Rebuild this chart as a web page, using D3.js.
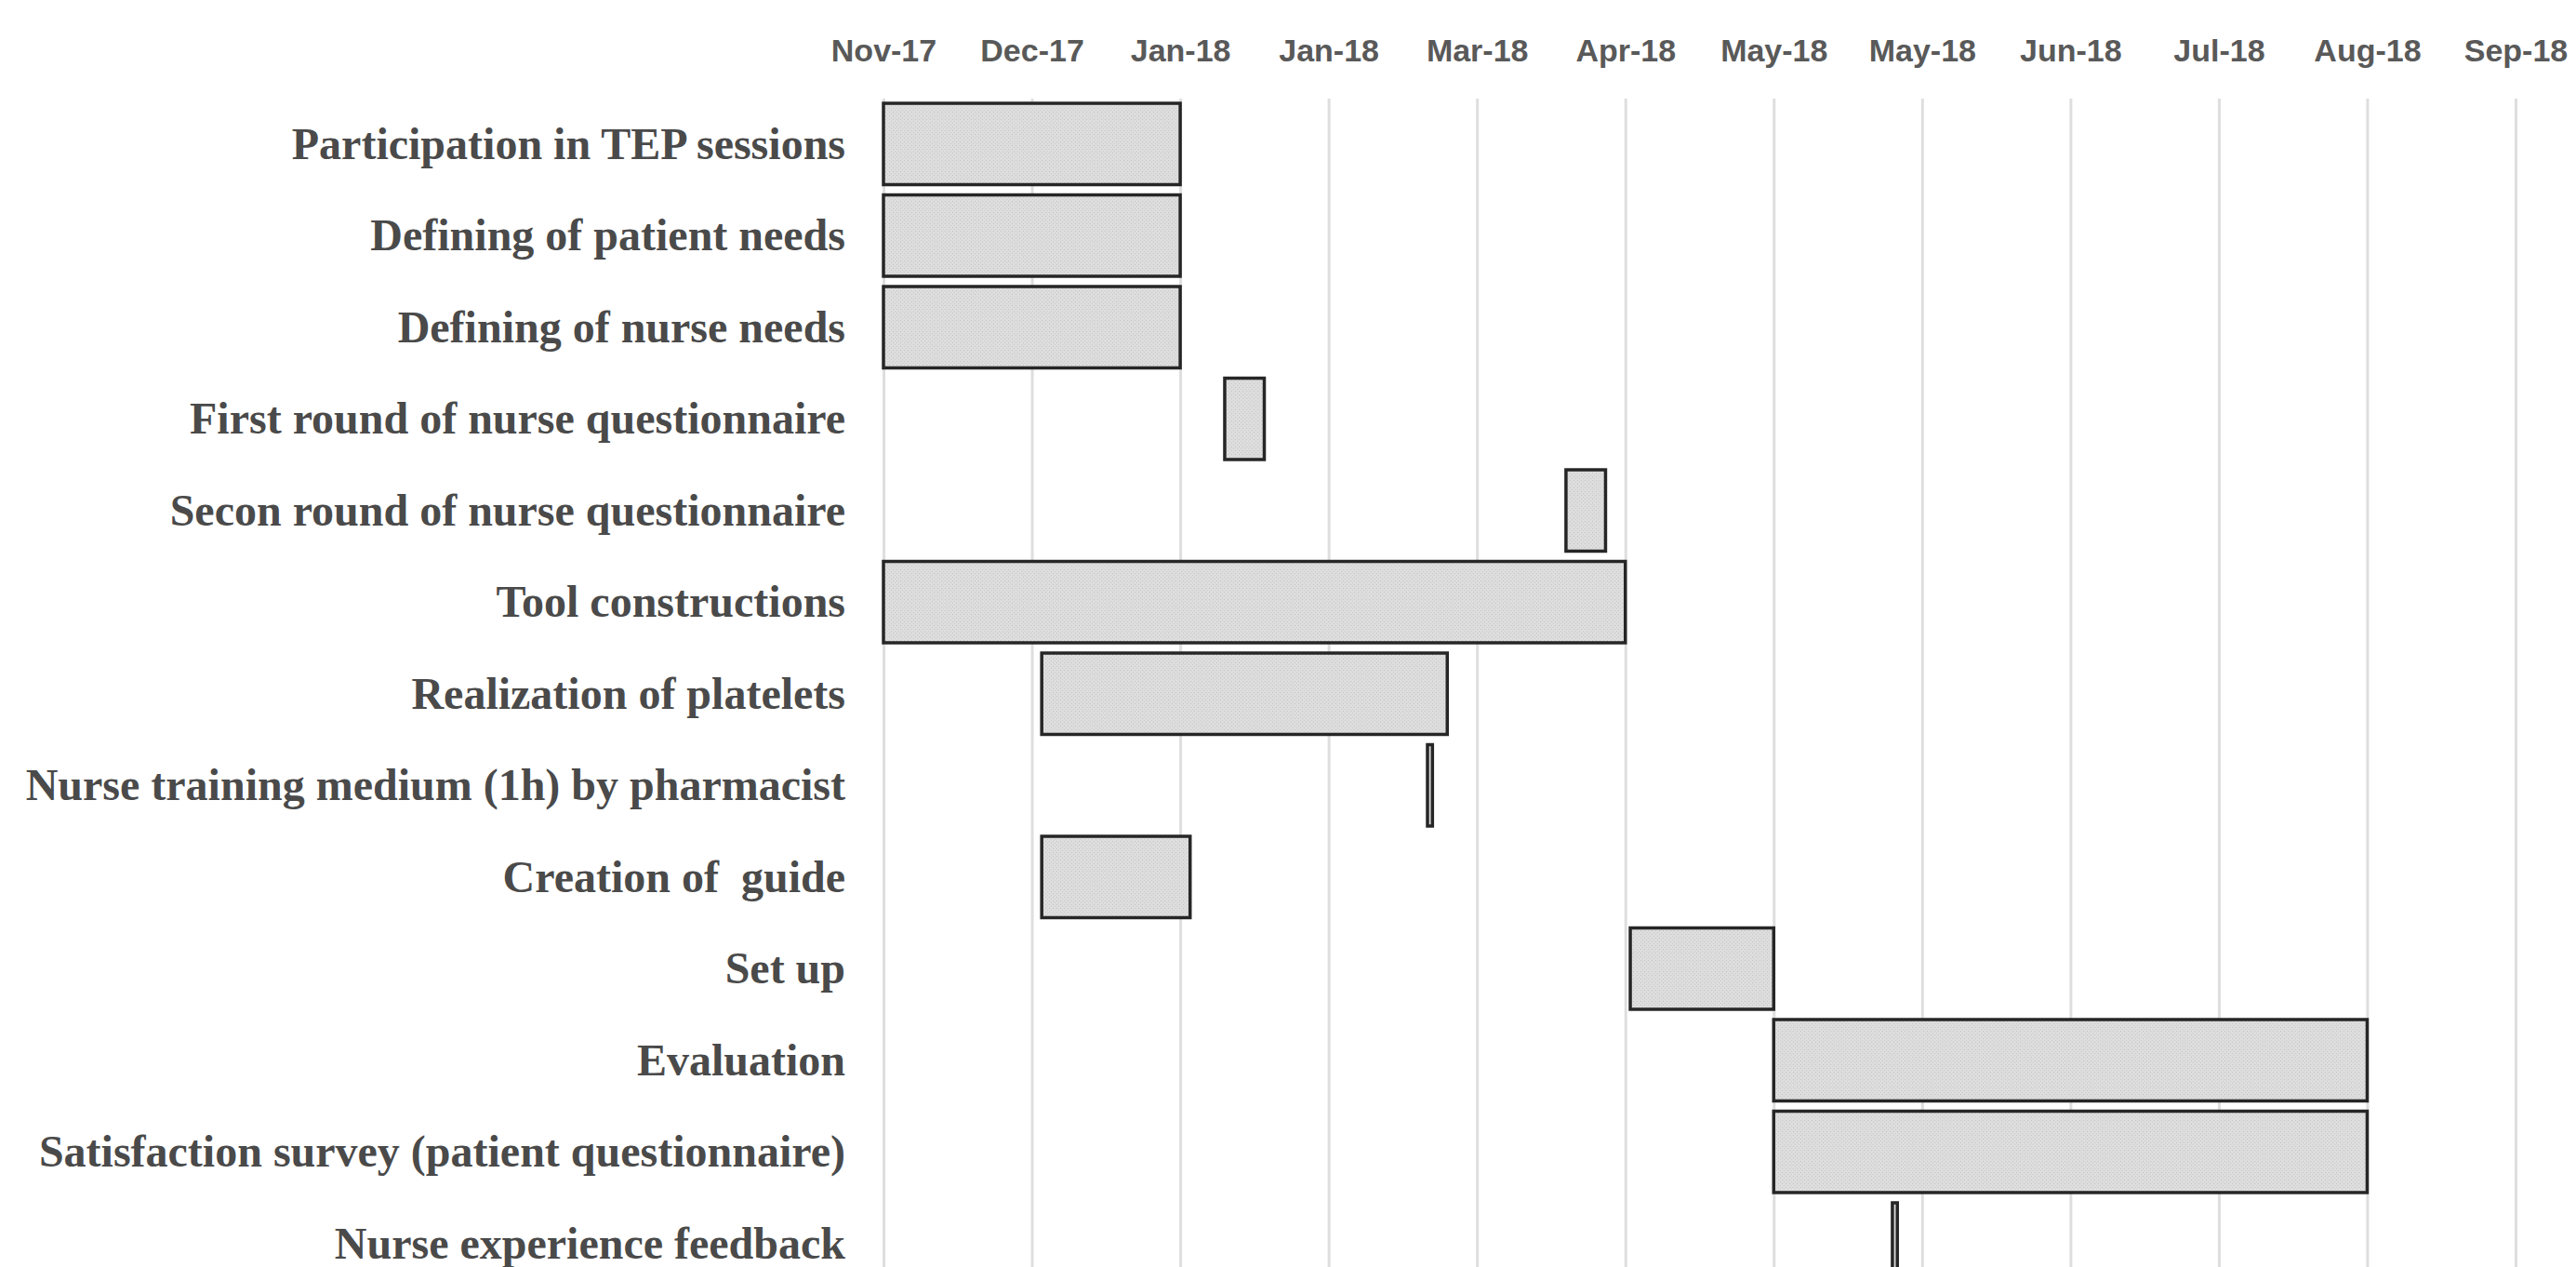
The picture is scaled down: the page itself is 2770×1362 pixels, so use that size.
<!DOCTYPE html>
<html>
<head>
<meta charset="utf-8">
<script src="https://cdn.jsdelivr.net/npm/d3@7"></script>
<style>
  html, body { margin: 0; padding: 0; background: #ffffff; }
  svg { display: block; }
</style>
</head>
<body>
<script>
// ---- data ----
const tasks = [
  "Participation in TEP sessions",
  "Defining of patient needs",
  "Defining of nurse needs",
  "First round of nurse questionnaire",
  "Secon round of nurse questionnaire",
  "Tool constructions",
  "Realization of platelets",
  "Nurse training medium (1h) by pharmacist",
  "Creation of  guide",
  "Set up",
  "Evaluation",
  "Satisfaction survey (patient questionnaire)",
  "Nurse experience feedback"
];
const startDates = [
  "2017-11-02", "2017-11-02", "2017-11-02", "2018-01-10", "2018-03-20",
  "2017-11-02", "2017-12-04", "2018-02-20", "2017-12-04", "2018-04-02",
  "2018-05-01", "2018-05-01", "2018-05-25"
];
const endDates = [
  "2018-01-01", "2018-01-01", "2018-01-01", "2018-01-18", "2018-03-28",
  "2018-04-01", "2018-02-24", "2018-02-21", "2018-01-03", "2018-05-01",
  "2018-08-29", "2018-08-29", "2018-05-26"
];
const tickDates = [
  "2017-11-02", "2017-12-02", "2018-01-01", "2018-01-31", "2018-03-02", "2018-04-01",
  "2018-05-01", "2018-05-31", "2018-06-30", "2018-07-30", "2018-08-29", "2018-09-28"
];
const tickLabels = [
  "Nov-17", "Dec-17", "Jan-18", "Jan-18", "Mar-18", "Apr-18",
  "May-18", "May-18", "Jun-18", "Jul-18", "Aug-18", "Sep-18"
];
const axisMin = "2017-11-02";
const axisMax = "2018-09-28";

// ---- layout ----
const W = 2770, H = 1362;
const parse = d3.utcParse("%Y-%m-%d");
const rows = tasks.map((t, i) => ({
  task: t, start: parse(startDates[i]), end: parse(endDates[i])
}));
const ticks = tickDates.map(parse);

const svg = d3.select("body").append("svg")
  .attr("width", W).attr("height", H)
  .attr("viewBox", `0 0 ${W} ${H}`);
svg.append("rect").attr("width", W).attr("height", H).attr("fill", "#ffffff");

const defs = svg.append("defs");
const pat = defs.append("pattern")
  .attr("id", "dots").attr("patternUnits", "userSpaceOnUse")
  .attr("width", 4).attr("height", 4);
pat.append("rect").attr("width", 4).attr("height", 4).attr("fill", "#dddddd");
pat.append("rect").attr("x", 0).attr("y", 0).attr("width", 1).attr("height", 1).attr("fill", "#c4c4c4");
pat.append("rect").attr("x", 2).attr("y", 2).attr("width", 1).attr("height", 1).attr("fill", "#cbcbcb");

const x = d3.scaleUtc()
  .domain([parse(axisMin), parse(axisMax)])
  .range([950, 2705]);

const y = d3.scaleBand()
  .domain(tasks)
  .range([100, 1391.5])
  .paddingInner(0.112)
  .paddingOuter(0.112);

// gridlines
const grid = svg.append("g").attr("transform", "translate(0,106)")
  .call(d3.axisBottom(x).tickValues(ticks).tickSize(1300).tickFormat(""));
grid.select(".domain").remove();
grid.selectAll(".tick line").attr("stroke", "#dedede").attr("stroke-width", 3);

// top axis labels
const ax = svg.append("g").attr("transform", "translate(0,66)")
  .call(d3.axisTop(x).tickValues(ticks).tickSize(0)
    .tickFormat((d, i) => tickLabels[i]));
ax.select(".domain").remove();
ax.selectAll(".tick text")
  .attr("y", 0).attr("dy", 0)
  .attr("font-family", "'Liberation Sans', Arial, sans-serif")
  .attr("font-weight", "bold")
  .attr("font-size", 34)
  .attr("fill", "#595959")
  .attr("text-anchor", "middle");

// bars
svg.append("g").selectAll("rect.bar")
  .data(rows)
  .join("rect")
  .attr("class", "bar")
  .attr("x", d => x(d.start))
  .attr("y", d => y(d.task))
  .attr("width", d => x(d.end) - x(d.start))
  .attr("height", y.bandwidth())
  .attr("fill", "url(#dots)")
  .attr("stroke", "#262626")
  .attr("stroke-width", 3.5);

// category labels
svg.append("g").selectAll("text.lab")
  .data(rows)
  .join("text")
  .attr("class", "lab")
  .attr("x", 909)
  .attr("y", d => y(d.task) + y.bandwidth() / 2)
  .attr("dy", "0.33em")
  .attr("text-anchor", "end")
  .attr("font-family", "'Liberation Serif', 'Times New Roman', serif")
  .attr("font-weight", "bold")
  .attr("font-size", 48)
  .attr("fill", "#4a4a4a")
  .style("white-space", "pre")
  .text(d => d.task);
</script>
</body>
</html>
